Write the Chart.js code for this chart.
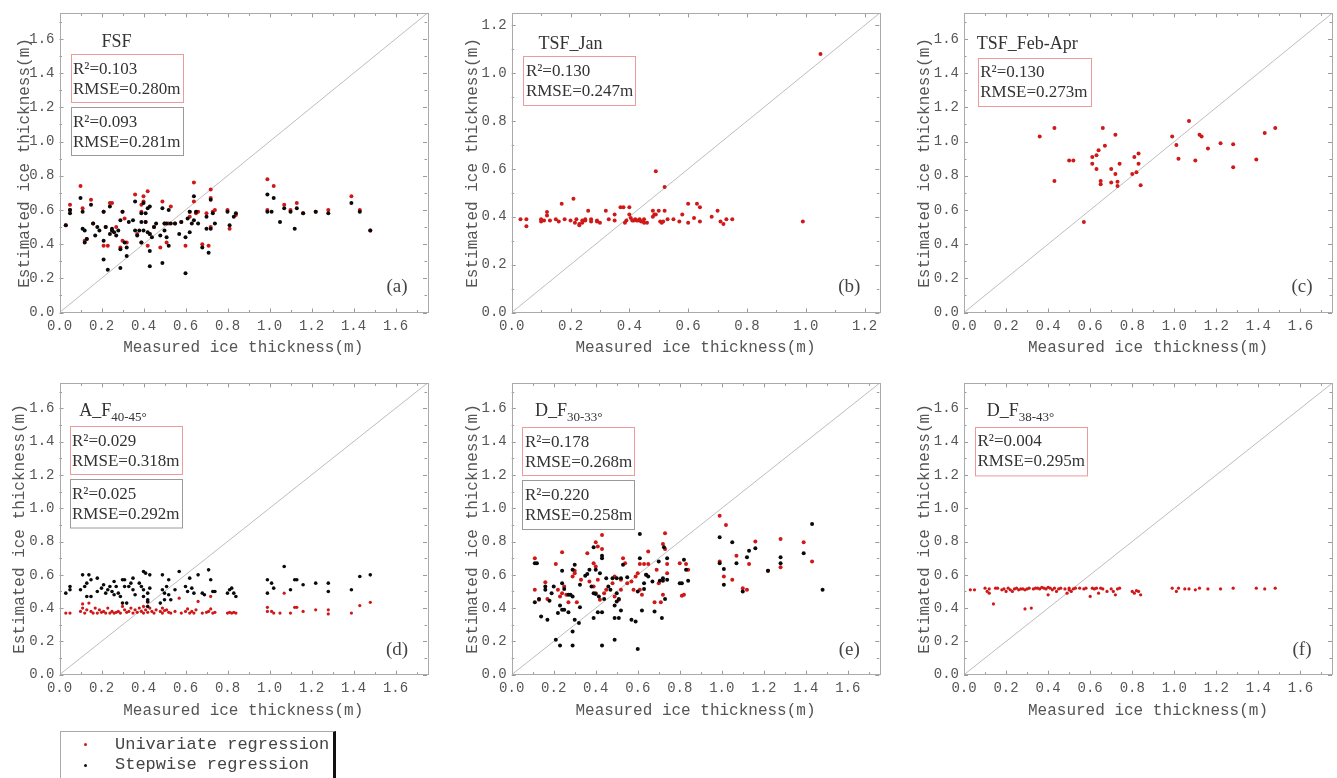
<!DOCTYPE html>
<html><head><meta charset="utf-8">
<script src="https://cdn.jsdelivr.net/npm/chart.js@4.4.1/dist/chart.umd.min.js"></script>
<style>
html,body{margin:0;padding:0;background:#fff;width:1337px;height:778px;overflow:hidden;position:relative;}
canvas{position:absolute;}
#legend{position:absolute;left:60px;top:731px;width:276px;height:60px;box-sizing:border-box;border:1px solid #aaa;border-right:3px solid #111;}
.lg{position:absolute;font-family:"Liberation Mono",monospace;font-size:17px;color:#444;white-space:nowrap;line-height:20px;}
.dot{position:absolute;width:3px;height:3px;border-radius:50%;}
</style></head><body>
<canvas id="ca" width="445" height="370" style="left:0;top:0"></canvas>
<canvas id="cb" width="445" height="370" style="left:445px;top:0"></canvas>
<canvas id="cc" width="447" height="370" style="left:890px;top:0"></canvas>
<canvas id="cd" width="445" height="408" style="left:0;top:370px"></canvas>
<canvas id="ce" width="445" height="408" style="left:445px;top:370px"></canvas>
<canvas id="cf" width="447" height="408" style="left:890px;top:370px"></canvas>
<div id="legend">
  <div class="dot" style="left:23px;top:11px;background:#d01818"></div>
  <div class="lg" style="left:54px;top:3px">Univariate regression</div>
  <div class="dot" style="left:23px;top:32px;background:#111"></div>
  <div class="lg" style="left:54px;top:23px">Stepwise regression</div>
</div>
<script>
// ---------- data ----------
const xLabel = 'Measured ice thickness(m)';
const yLabel = 'Estimated ice thickness(m)';

const fsfUni = [[0.03,0.51],[0.05,0.63],[0.05,0.60],[0.10,0.74],[0.11,0.61],[0.12,0.42],[0.13,0.43],[0.15,0.66],[0.16,0.52],[0.21,0.39],[0.21,0.59],[0.22,0.50],[0.23,0.39],[0.24,0.64],[0.25,0.64],[0.25,0.48],[0.27,0.50],[0.29,0.38],[0.30,0.59],[0.30,0.42],[0.31,0.55],[0.32,0.41],[0.36,0.69],[0.37,0.46],[0.39,0.59],[0.39,0.63],[0.39,0.41],[0.40,0.68],[0.40,0.65],[0.41,0.53],[0.42,0.71],[0.42,0.39],[0.43,0.46],[0.45,0.50],[0.48,0.38],[0.49,0.65],[0.50,0.52],[0.51,0.41],[0.52,0.52],[0.53,0.62],[0.55,0.52],[0.58,0.53],[0.60,0.39],[0.62,0.56],[0.62,0.59],[0.64,0.76],[0.64,0.65],[0.65,0.58],[0.66,0.59],[0.68,0.40],[0.70,0.58],[0.71,0.39],[0.72,0.72],[0.72,0.67],[0.72,0.50],[0.73,0.59],[0.74,0.60],[0.80,0.60],[0.81,0.49],[0.84,0.57],[0.99,0.78],[0.99,0.60],[1.02,0.74],[1.07,0.63],[1.10,0.60],[1.13,0.64],[1.16,0.58],[1.22,0.59],[1.28,0.60],[1.39,0.68],[1.43,0.60],[1.48,0.48]];
const fsfStep = [[0.03,0.51],[0.05,0.60],[0.05,0.58],[0.10,0.67],[0.11,0.59],[0.11,0.49],[0.12,0.48],[0.12,0.41],[0.13,0.43],[0.15,0.63],[0.16,0.52],[0.17,0.45],[0.18,0.50],[0.19,0.48],[0.21,0.31],[0.21,0.59],[0.21,0.42],[0.22,0.50],[0.23,0.25],[0.24,0.46],[0.24,0.62],[0.25,0.48],[0.25,0.49],[0.26,0.47],[0.27,0.45],[0.28,0.48],[0.29,0.37],[0.29,0.26],[0.29,0.54],[0.30,0.59],[0.31,0.41],[0.32,0.38],[0.32,0.33],[0.33,0.53],[0.35,0.54],[0.36,0.48],[0.36,0.65],[0.37,0.45],[0.38,0.48],[0.39,0.58],[0.39,0.41],[0.39,0.53],[0.40,0.64],[0.40,0.48],[0.41,0.53],[0.41,0.58],[0.42,0.61],[0.42,0.47],[0.43,0.36],[0.43,0.27],[0.43,0.62],[0.43,0.46],[0.44,0.44],[0.45,0.50],[0.46,0.52],[0.49,0.29],[0.48,0.45],[0.49,0.61],[0.50,0.52],[0.50,0.48],[0.51,0.44],[0.51,0.52],[0.52,0.39],[0.52,0.60],[0.53,0.52],[0.55,0.52],[0.57,0.46],[0.58,0.53],[0.60,0.44],[0.60,0.23],[0.61,0.55],[0.62,0.59],[0.62,0.47],[0.63,0.52],[0.64,0.54],[0.64,0.68],[0.65,0.59],[0.66,0.52],[0.68,0.38],[0.70,0.56],[0.70,0.49],[0.71,0.35],[0.72,0.66],[0.72,0.49],[0.73,0.58],[0.74,0.52],[0.80,0.59],[0.81,0.51],[0.83,0.56],[0.84,0.58],[0.99,0.69],[0.99,0.59],[1.01,0.59],[1.02,0.67],[1.05,0.53],[1.07,0.61],[1.10,0.59],[1.12,0.49],[1.13,0.61],[1.16,0.58],[1.22,0.59],[1.28,0.58],[1.39,0.64],[1.43,0.59],[1.48,0.48]];

const tsfJanUni = [[0.03,0.39],[0.05,0.39],[0.05,0.36],[0.10,0.39],[0.10,0.38],[0.11,0.385],[0.12,0.42],[0.12,0.405],[0.13,0.385],[0.15,0.39],[0.16,0.38],[0.17,0.455],[0.18,0.39],[0.20,0.385],[0.21,0.475],[0.215,0.375],[0.22,0.39],[0.23,0.37],[0.23,0.365],[0.24,0.375],[0.24,0.385],[0.25,0.39],[0.25,0.385],[0.26,0.425],[0.27,0.39],[0.27,0.38],[0.29,0.385],[0.29,0.38],[0.30,0.375],[0.32,0.425],[0.33,0.39],[0.35,0.41],[0.35,0.385],[0.37,0.44],[0.38,0.44],[0.385,0.375],[0.39,0.385],[0.40,0.44],[0.40,0.41],[0.405,0.395],[0.41,0.385],[0.415,0.385],[0.42,0.39],[0.425,0.385],[0.43,0.385],[0.435,0.39],[0.44,0.38],[0.45,0.375],[0.45,0.39],[0.46,0.375],[0.48,0.425],[0.48,0.40],[0.485,0.41],[0.49,0.59],[0.49,0.41],[0.50,0.425],[0.505,0.38],[0.51,0.375],[0.515,0.38],[0.52,0.525],[0.52,0.425],[0.53,0.39],[0.55,0.39],[0.57,0.38],[0.58,0.41],[0.60,0.455],[0.60,0.375],[0.62,0.395],[0.63,0.455],[0.64,0.44],[0.64,0.38],[0.68,0.40],[0.70,0.425],[0.71,0.38],[0.72,0.37],[0.73,0.39],[0.75,0.39],[0.99,0.38],[1.05,1.08]];

const tsfFebUni = [[0.36,1.03],[0.43,1.08],[0.43,0.77],[0.50,0.89],[0.52,0.89],[0.57,0.53],[0.61,0.91],[0.61,0.87],[0.63,0.92],[0.63,0.84],[0.64,0.95],[0.65,0.77],[0.65,0.75],[0.66,1.08],[0.67,0.975],[0.70,0.84],[0.70,0.76],[0.72,0.81],[0.72,1.04],[0.73,0.765],[0.73,0.74],[0.74,0.87],[0.80,0.81],[0.81,0.91],[0.82,0.82],[0.83,0.93],[0.83,0.87],[0.84,0.745],[0.99,1.03],[1.01,0.98],[1.02,0.90],[1.07,1.12],[1.10,0.89],[1.12,1.04],[1.13,1.03],[1.16,0.96],[1.22,0.99],[1.28,0.985],[1.28,0.85],[1.39,0.895],[1.43,1.05],[1.48,1.08]];

const afUni = [[0.03,0.37],[0.05,0.37],[0.10,0.38],[0.11,0.425],[0.11,0.40],[0.12,0.37],[0.13,0.39],[0.14,0.43],[0.15,0.38],[0.16,0.37],[0.17,0.40],[0.18,0.37],[0.19,0.39],[0.20,0.375],[0.21,0.38],[0.22,0.37],[0.23,0.40],[0.24,0.37],[0.25,0.38],[0.26,0.37],[0.27,0.375],[0.28,0.38],[0.29,0.37],[0.30,0.41],[0.31,0.39],[0.32,0.375],[0.33,0.38],[0.34,0.40],[0.35,0.37],[0.36,0.39],[0.37,0.375],[0.38,0.40],[0.39,0.38],[0.40,0.37],[0.40,0.41],[0.41,0.39],[0.42,0.435],[0.42,0.375],[0.43,0.40],[0.44,0.38],[0.45,0.37],[0.46,0.39],[0.48,0.38],[0.49,0.40],[0.49,0.37],[0.50,0.385],[0.51,0.39],[0.52,0.375],[0.53,0.37],[0.55,0.38],[0.57,0.46],[0.58,0.37],[0.60,0.38],[0.61,0.395],[0.62,0.37],[0.63,0.38],[0.64,0.37],[0.65,0.39],[0.66,0.44],[0.68,0.37],[0.70,0.375],[0.71,0.38],[0.72,0.47],[0.72,0.395],[0.73,0.37],[0.74,0.375],[0.80,0.37],[0.81,0.375],[0.82,0.37],[0.83,0.375],[0.84,0.37],[0.99,0.405],[0.99,0.38],[1.01,0.38],[1.02,0.37],[1.05,0.37],[1.07,0.49],[1.10,0.37],[1.12,0.405],[1.13,0.405],[1.16,0.38],[1.22,0.39],[1.28,0.39],[1.28,0.365],[1.39,0.37],[1.43,0.415],[1.48,0.435]];
const afStep = [[0.03,0.49],[0.05,0.51],[0.05,0.53],[0.10,0.51],[0.11,0.60],[0.12,0.53],[0.13,0.55],[0.13,0.47],[0.14,0.60],[0.15,0.57],[0.15,0.47],[0.18,0.58],[0.18,0.50],[0.20,0.52],[0.21,0.54],[0.22,0.49],[0.23,0.51],[0.24,0.53],[0.25,0.50],[0.26,0.48],[0.26,0.56],[0.27,0.53],[0.28,0.49],[0.29,0.47],[0.30,0.57],[0.30,0.43],[0.31,0.57],[0.31,0.53],[0.32,0.43],[0.33,0.53],[0.34,0.55],[0.35,0.58],[0.35,0.51],[0.36,0.48],[0.38,0.55],[0.39,0.53],[0.40,0.62],[0.40,0.51],[0.40,0.47],[0.41,0.61],[0.42,0.49],[0.42,0.45],[0.42,0.44],[0.42,0.41],[0.43,0.60],[0.43,0.52],[0.48,0.43],[0.49,0.60],[0.49,0.51],[0.50,0.49],[0.50,0.45],[0.51,0.53],[0.52,0.57],[0.52,0.48],[0.53,0.45],[0.55,0.51],[0.57,0.62],[0.60,0.53],[0.61,0.50],[0.62,0.58],[0.63,0.52],[0.64,0.49],[0.66,0.60],[0.68,0.49],[0.69,0.48],[0.71,0.63],[0.72,0.57],[0.73,0.50],[0.74,0.50],[0.80,0.49],[0.81,0.51],[0.82,0.52],[0.83,0.49],[0.84,0.47],[0.99,0.57],[0.99,0.49],[1.01,0.55],[1.02,0.52],[1.07,0.65],[1.10,0.51],[1.12,0.57],[1.13,0.57],[1.16,0.54],[1.22,0.55],[1.28,0.55],[1.28,0.50],[1.39,0.51],[1.43,0.59],[1.48,0.60]];

const df30Uni = [[0.11,0.70],[0.11,0.51],[0.13,0.45],[0.16,0.555],[0.17,0.455],[0.21,0.665],[0.24,0.735],[0.22,0.51],[0.23,0.47],[0.24,0.49],[0.25,0.53],[0.26,0.48],[0.27,0.435],[0.29,0.59],[0.30,0.61],[0.30,0.625],[0.31,0.435],[0.33,0.57],[0.36,0.73],[0.37,0.56],[0.39,0.67],[0.39,0.53],[0.40,0.795],[0.40,0.49],[0.40,0.65],[0.41,0.77],[0.41,0.57],[0.42,0.45],[0.43,0.84],[0.43,0.755],[0.44,0.49],[0.45,0.51],[0.48,0.55],[0.49,0.47],[0.49,0.59],[0.51,0.45],[0.52,0.51],[0.52,0.57],[0.53,0.70],[0.54,0.67],[0.55,0.55],[0.57,0.56],[0.58,0.51],[0.59,0.59],[0.60,0.61],[0.61,0.665],[0.61,0.51],[0.62,0.48],[0.63,0.665],[0.64,0.60],[0.65,0.74],[0.65,0.665],[0.68,0.435],[0.69,0.63],[0.70,0.55],[0.71,0.435],[0.72,0.48],[0.72,0.785],[0.73,0.85],[0.73,0.755],[0.74,0.665],[0.74,0.61],[0.80,0.67],[0.81,0.475],[0.82,0.48],[0.83,0.665],[0.84,0.63],[0.99,0.955],[0.99,0.68],[1.01,0.59],[1.02,0.90],[1.05,0.57],[1.07,0.715],[1.10,0.52],[1.12,0.51],[1.13,0.665],[1.16,0.80],[1.22,0.625],[1.28,0.815],[1.28,0.645],[1.39,0.795],[1.43,0.68]];
const df30Step = [[0.11,0.67],[0.12,0.67],[0.11,0.435],[0.13,0.455],[0.14,0.35],[0.16,0.51],[0.16,0.53],[0.17,0.33],[0.18,0.445],[0.19,0.49],[0.20,0.53],[0.21,0.21],[0.22,0.37],[0.23,0.175],[0.23,0.415],[0.24,0.39],[0.24,0.625],[0.24,0.55],[0.25,0.515],[0.25,0.39],[0.27,0.375],[0.27,0.48],[0.28,0.48],[0.29,0.47],[0.29,0.26],[0.29,0.175],[0.29,0.63],[0.30,0.66],[0.30,0.33],[0.32,0.31],[0.325,0.54],[0.325,0.405],[0.35,0.595],[0.36,0.605],[0.37,0.63],[0.38,0.53],[0.39,0.49],[0.39,0.34],[0.39,0.765],[0.40,0.63],[0.40,0.485],[0.41,0.375],[0.415,0.47],[0.42,0.61],[0.43,0.70],[0.43,0.715],[0.43,0.375],[0.43,0.175],[0.44,0.455],[0.45,0.58],[0.46,0.53],[0.47,0.51],[0.48,0.58],[0.49,0.415],[0.49,0.34],[0.49,0.21],[0.50,0.49],[0.50,0.58],[0.50,0.44],[0.51,0.34],[0.51,0.455],[0.52,0.385],[0.52,0.58],[0.53,0.66],[0.55,0.585],[0.57,0.33],[0.59,0.32],[0.60,0.155],[0.60,0.50],[0.61,0.845],[0.61,0.70],[0.62,0.385],[0.63,0.55],[0.63,0.515],[0.64,0.60],[0.65,0.59],[0.67,0.56],[0.68,0.38],[0.70,0.68],[0.705,0.565],[0.715,0.34],[0.72,0.565],[0.72,0.58],[0.73,0.455],[0.74,0.70],[0.74,0.57],[0.725,0.765],[0.80,0.55],[0.81,0.55],[0.82,0.69],[0.83,0.63],[0.84,0.565],[0.99,0.825],[0.99,0.67],[1.01,0.54],[1.01,0.635],[1.05,0.795],[1.07,0.67],[1.10,0.50],[1.12,0.705],[1.13,0.745],[1.16,0.76],[1.22,0.625],[1.28,0.705],[1.28,0.67],[1.39,0.73],[1.43,0.905],[1.48,0.51]];

const df38Uni = [[0.03,0.51],[0.05,0.51],[0.10,0.52],[0.11,0.50],[0.12,0.49],[0.12,0.515],[0.14,0.425],[0.15,0.52],[0.16,0.52],[0.18,0.51],[0.19,0.515],[0.20,0.50],[0.21,0.52],[0.22,0.51],[0.23,0.50],[0.24,0.515],[0.25,0.52],[0.26,0.51],[0.27,0.515],[0.28,0.515],[0.29,0.395],[0.29,0.51],[0.30,0.515],[0.31,0.52],[0.32,0.40],[0.33,0.515],[0.34,0.52],[0.35,0.52],[0.36,0.515],[0.37,0.525],[0.38,0.52],[0.39,0.515],[0.40,0.525],[0.40,0.48],[0.41,0.52],[0.42,0.51],[0.43,0.52],[0.44,0.50],[0.45,0.515],[0.46,0.52],[0.48,0.515],[0.49,0.49],[0.50,0.51],[0.50,0.52],[0.51,0.50],[0.52,0.515],[0.53,0.52],[0.55,0.52],[0.57,0.515],[0.58,0.52],[0.60,0.47],[0.61,0.52],[0.62,0.515],[0.63,0.52],[0.64,0.49],[0.65,0.52],[0.66,0.515],[0.68,0.50],[0.70,0.515],[0.71,0.50],[0.72,0.48],[0.73,0.515],[0.74,0.52],[0.80,0.50],[0.81,0.49],[0.82,0.505],[0.83,0.50],[0.84,0.48],[0.99,0.52],[1.01,0.50],[1.02,0.52],[1.05,0.515],[1.07,0.515],[1.10,0.51],[1.12,0.52],[1.16,0.515],[1.22,0.515],[1.28,0.52],[1.39,0.52],[1.43,0.515],[1.48,0.52]];

// ---------- drawing ----------
const RED = '#d01818', BLACK = '#0a0a0a';
const FONT_MONO = '"Liberation Mono", monospace';
const FONT_SERIF = '"Liberation Serif", serif';

const decor = {
  id: 'decor',
  afterDraw(chart, args, o) {
    const {ctx, chartArea: a, scales: {x, y}} = chart;
    ctx.save();
    ctx.strokeStyle = '#9a9a9a'; ctx.lineWidth = 1;
    ctx.beginPath();
    for (let i = 0; i / 10 <= o.max + 1e-9; i++) {
      const v = i / 10, len = (i % 2 === 0) ? 4 : 2.5;
      const px = Math.round(x.getPixelForValue(v)) + 0.5;
      ctx.moveTo(px, a.bottom); ctx.lineTo(px, a.bottom - len);
      ctx.moveTo(px, a.top); ctx.lineTo(px, a.top + len);
      const py = Math.round(y.getPixelForValue(v)) + 0.5;
      ctx.moveTo(a.left, py); ctx.lineTo(a.left + len, py);
      ctx.moveTo(a.right, py); ctx.lineTo(a.right - len, py);
    }
    ctx.stroke();
    ctx.strokeStyle = '#aaaaaa';
    ctx.strokeRect(Math.round(a.left) + 0.5, Math.round(a.top) + 0.5, Math.round(a.right - a.left), Math.round(a.bottom - a.top));
    ctx.fillStyle = '#333';
    ctx.textBaseline = 'middle'; ctx.textAlign = 'left';
    ctx.font = '18px ' + FONT_SERIF;
    const tx = a.left + o.tx, ty = a.top + o.ty;
    ctx.fillText(o.title, tx, ty);
    if (o.sub) {
      const w = ctx.measureText(o.title).width;
      ctx.font = '13px ' + FONT_SERIF;
      ctx.fillText(o.sub, tx + w, ty + 6);
    }
    for (const b of o.boxes) {
      ctx.strokeStyle = b.color; ctx.lineWidth = 1;
      ctx.strokeRect(Math.round(a.left + b.x) + 0.5, Math.round(a.top + b.y) + 0.5, b.w, b.h);
      ctx.fillStyle = '#333';
      ctx.font = '17px ' + FONT_SERIF;
      ctx.fillText('R\u00B2=' + b.r2, a.left + b.x + 2.5, a.top + b.y + 15);
      ctx.fillText('RMSE=' + b.rmse + 'm', a.left + b.x + 2.5, a.top + b.y + 35);
    }
    ctx.font = '19px ' + FONT_SERIF;
    ctx.textAlign = 'center';
    ctx.fillStyle = '#444';
    ctx.fillText(o.label, a.right - 30, a.bottom - 25);
    ctx.restore();
  }
};

const RED_BOX = '#ec9a9a', GRAY_BOX = '#9a9a9a';

const panels = [
  {id:'ca', h:370, L:59.5, R:427, T:12.5, B:312.5, max:1.75, ytp:15.4, xtb:12.4,
   title:'FSF', sub:'', tx:42, ty:28.5, label:'(a)',
   boxes:[{x:11,y:41,w:112,h:48,color:RED_BOX,r2:'0.103',rmse:'0.280'},{x:11,y:94,w:112,h:48,color:GRAY_BOX,r2:'0.093',rmse:'0.281'}],
   series:[[fsfUni,RED,2],[fsfStep,BLACK,2]]},
  {id:'cb', h:370, L:66.7, R:434.3, T:12.5, B:312.5, max:1.25, ytp:18.4, xtb:12.4,
   title:'TSF_Jan', sub:'', tx:26.7, ty:31, label:'(b)',
   boxes:[{x:11.7,y:42.7,w:112,h:49,color:RED_BOX,r2:'0.130',rmse:'0.247'}],
   series:[[tsfJanUni,RED,2]]},
  {id:'cc', h:370, L:74, R:442, T:12.5, B:312.5, max:1.75, ytp:25.4, xtb:12.4,
   title:'TSF_Feb-Apr', sub:'', tx:12.7, ty:31, label:'(c)',
   boxes:[{x:13.7,y:44.4,w:113,h:48,color:RED_BOX,r2:'0.130',rmse:'0.273'}],
   series:[[tsfFebUni,RED,2]]},
  {id:'cd', h:408, L:59.5, R:427, T:5, B:304.7, max:1.75, ytp:10.4, xtb:57.9,
   title:'A_F', sub:'40-45\u00B0', tx:19.7, ty:28, label:'(d)',
   boxes:[{x:10,y:42.7,w:112,h:48,color:RED_BOX,r2:'0.029',rmse:'0.318'},{x:10,y:95.7,w:112,h:48.5,color:GRAY_BOX,r2:'0.025',rmse:'0.292'}],
   series:[[afUni,RED,1.6],[afStep,BLACK,1.8]]},
  {id:'ce', h:408, L:66.7, R:434.3, T:5, B:304.7, max:1.75, ytp:18.2, xtb:57.9,
   title:'D_F', sub:'30-33\u00B0', tx:23.3, ty:28.3, label:'(e)',
   boxes:[{x:10.7,y:44,w:112,h:48,color:RED_BOX,r2:'0.178',rmse:'0.268'},{x:10.7,y:96.7,w:112,h:49,color:GRAY_BOX,r2:'0.220',rmse:'0.258'}],
   series:[[df30Uni,RED,2],[df30Step,BLACK,2]]},
  {id:'cf', h:408, L:74, R:442, T:5, B:304.7, max:1.75, ytp:25.4, xtb:57.9,
   title:'D_F', sub:'38-43\u00B0', tx:22.7, ty:28, label:'(f)',
   boxes:[{x:11,y:43.3,w:112,h:48.4,color:RED_BOX,r2:'0.004',rmse:'0.295'}],
   series:[[df38Uni,RED,1.6]]}
];

for (const P of panels) {
  const cv = document.getElementById(P.id);
  const W = cv.width;
  const datasets = [{
    data: [{x:0, y:0}, {x:P.max, y:P.max}],
    showLine: true, borderColor: '#bdbdbd', borderWidth: 1, pointRadius: 0, order: 10
  }];
  P.series.forEach((s, i) => {
    datasets.push({
      data: s[0].map(p => ({x: p[0], y: p[1]})),
      backgroundColor: s[1], borderColor: s[1], borderWidth: 0,
      pointRadius: s[2], pointHoverRadius: s[2], order: 5 - i
    });
  });
  const tickFont = {family: FONT_MONO, size: 14};
  const titleFont = {family: FONT_MONO, size: 16};
  new Chart(cv, {
    type: 'scatter',
    data: {datasets},
    plugins: [decor],
    options: {
      responsive: false, animation: false, devicePixelRatio: 1,
      layout: {padding: {left: 0, top: P.T, right: W - P.R, bottom: 0}},
      plugins: {legend: {display: false}, tooltip: {enabled: false},
        decor: {max: P.max, title: P.title, sub: P.sub, tx: P.tx, ty: P.ty, boxes: P.boxes, label: P.label}},
      scales: {
        x: {type: 'linear', min: 0, max: P.max,
          afterFit(s) { s.height = P.h - P.B; },
          grid: {display: false, drawTicks: false}, border: {display: false},
          ticks: {stepSize: 0.2, includeBounds: false, padding: 5, color: '#555', font: tickFont,
            maxRotation: 0, autoSkip: false, callback: v => Number(v).toFixed(1)},
          title: {display: true, text: xLabel, color: '#555', font: titleFont, padding: {top: 0, bottom: P.xtb}}},
        y: {type: 'linear', min: 0, max: P.max,
          afterFit(s) { s.width = P.L; },
          grid: {display: false, drawTicks: false}, border: {display: false},
          ticks: {stepSize: 0.2, includeBounds: false, padding: 5, color: '#555', font: tickFont,
            autoSkip: false, callback: v => Number(v).toFixed(1)},
          title: {display: true, text: yLabel, color: '#555', font: titleFont, padding: {top: P.ytp, bottom: 0}}}
      }
    }
  });
}
</script>
</body></html>
